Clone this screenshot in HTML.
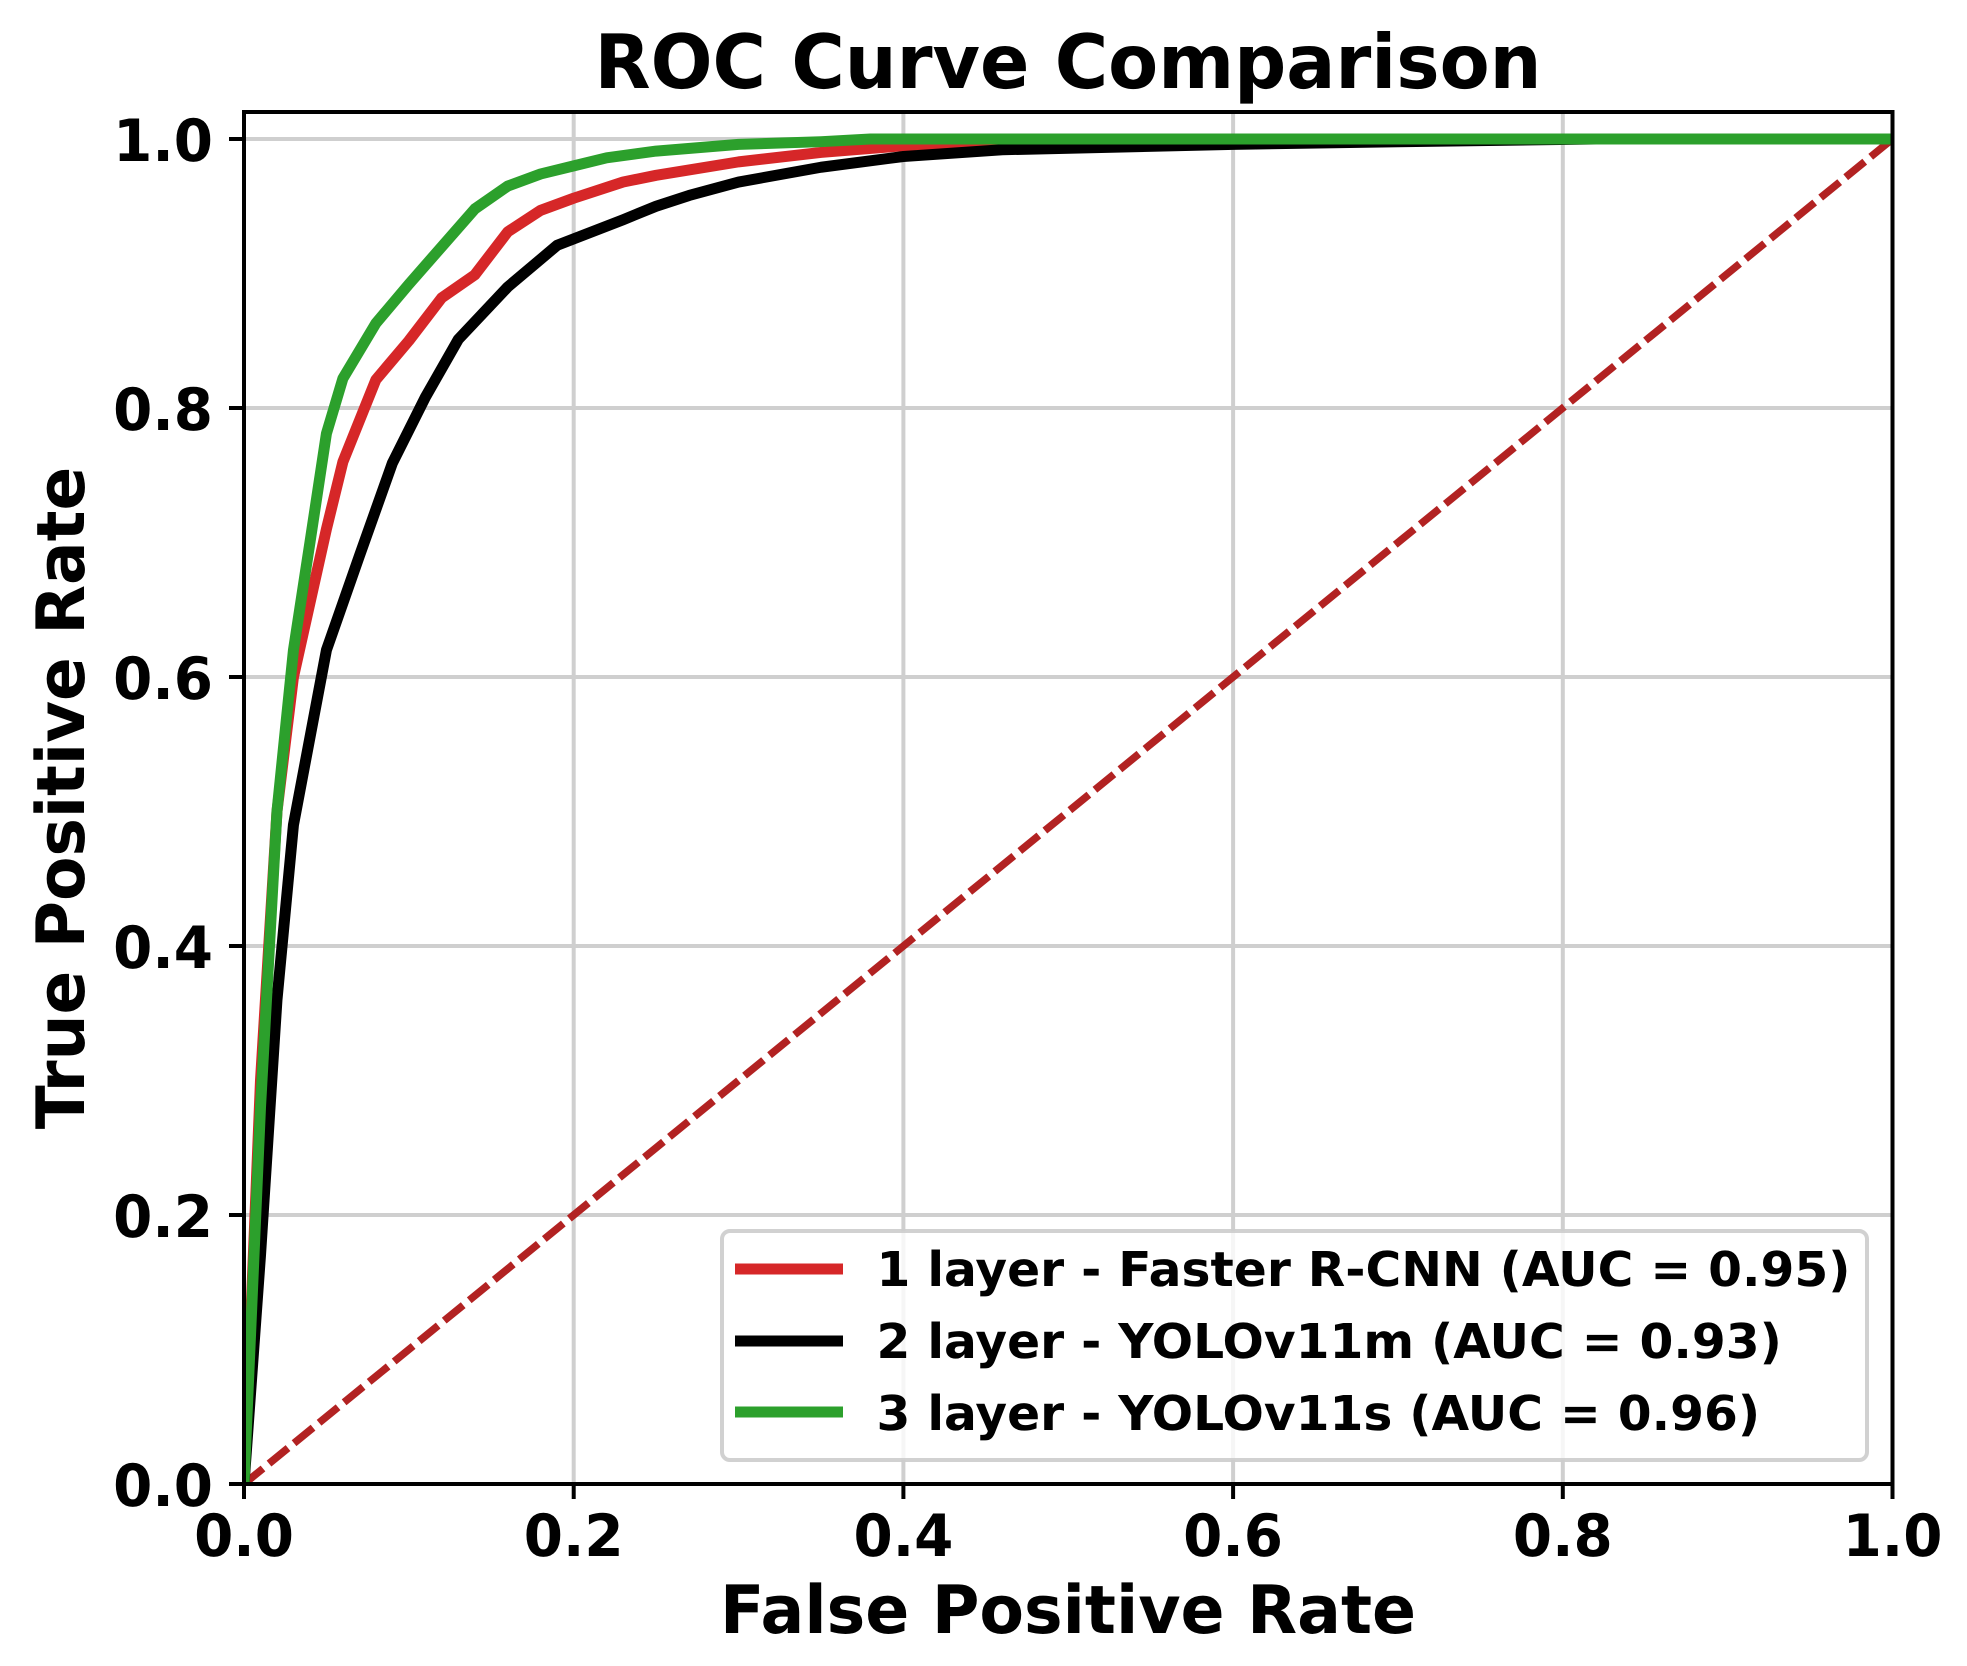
<!DOCTYPE html>
<html lang="en">
<head>
<meta charset="utf-8">
<title>ROC Curve Comparison</title>
<style>
html,body{margin:0;padding:0;background:#fff;}
#chart{display:block;position:absolute;left:0;top:0;}
text{font-family:"DejaVu Sans","Liberation Sans",sans-serif;font-weight:bold;fill:#000;text-rendering:geometricPrecision;}
</style>
</head>
<body>
<svg id="chart" xmlns="http://www.w3.org/2000/svg" width="1967" height="1666" viewBox="0 0 1967 1666">
  <defs><clipPath id="plot-clip"><rect x="244" y="112" width="1648.5" height="1372"/></clipPath></defs>
  <rect x="0" y="0" width="1967" height="1666" fill="#fff"/>
  <g id="grid"></g>
  <g id="marks" clip-path="url(#plot-clip)"></g>
  <g id="ticks"></g>
  <rect x="244" y="112" width="1648.5" height="1372" fill="none" stroke="#000" stroke-width="4"/>
  <text transform="translate(1068 88) scale(0.971 1)" font-size="75" text-anchor="middle">ROC Curve Comparison</text>
  <text transform="translate(1068 1633) scale(0.9735 1)" font-size="66.7" text-anchor="middle">False Positive Rate</text>
  <text transform="translate(84 798) rotate(-90) scale(0.968 1)" font-size="66.7" text-anchor="middle">True Positive Rate</text>
  <g>
    <rect x="722" y="1231" width="1145" height="229" rx="8" ry="8" fill="#fff" fill-opacity="0.8" stroke="#cccccc" stroke-opacity="0.9" stroke-width="4"/>
    <g>
      <line x1="735" y1="1269" x2="843" y2="1269" stroke="#d62728" stroke-width="11"/>
      <text transform="translate(876.5 1286) scale(1.0144 1)" font-size="48">1 layer - Faster R-CNN (AUC = 0.95)</text>
    </g>
    <g>
      <line x1="735" y1="1341" x2="843" y2="1341" stroke="#000000" stroke-width="11"/>
      <text transform="translate(876.5 1358) scale(1.0144 1)" font-size="48">2 layer - YOLOv11m (AUC = 0.93)</text>
    </g>
    <g>
      <line x1="735" y1="1412" x2="843" y2="1412" stroke="#2ca02c" stroke-width="11"/>
      <text transform="translate(876.5 1430) scale(1.0144 1)" font-size="48">3 layer - YOLOv11s (AUC = 0.96)</text>
    </g>
  </g>
</svg>
<script>
var xTickValues = [0.0, 0.2, 0.4, 0.6, 0.8, 1.0];
var yTickValues = [0.0, 0.2, 0.4, 0.6, 0.8, 1.0];
var xTickLabels = ["0.0", "0.2", "0.4", "0.6", "0.8", "1.0"];
var yTickLabels = ["0.0", "0.2", "0.4", "0.6", "0.8", "1.0"];

var chanceFpr = [0, 1];
var chanceTpr = [0, 1];

var fasterRcnnFpr = [0, 0.01, 0.02, 0.03, 0.05, 0.06, 0.08, 0.10, 0.12, 0.14, 0.16, 0.18, 0.20, 0.23, 0.25, 0.30, 0.35, 0.40, 0.45, 0.50, 1];
var fasterRcnnTpr = [0, 0.30, 0.50, 0.60, 0.71, 0.76, 0.821, 0.85, 0.882, 0.899, 0.931, 0.947, 0.956, 0.968, 0.973, 0.983, 0.990, 0.995, 0.999, 1, 1];

var yolo11mFpr = [0, 0.01, 0.02, 0.03, 0.05, 0.07, 0.09, 0.11, 0.13, 0.16, 0.19, 0.23, 0.25, 0.27, 0.30, 0.35, 0.40, 0.46, 0.60, 0.70, 0.82, 1];
var yolo11mTpr = [0, 0.17, 0.36, 0.49, 0.62, 0.69, 0.759, 0.808, 0.851, 0.89, 0.921, 0.94, 0.95, 0.958, 0.968, 0.979, 0.987, 0.992, 0.996, 0.998, 1, 1];

var yolo11sFpr = [0, 0.01, 0.02, 0.03, 0.04, 0.05, 0.06, 0.08, 0.10, 0.12, 0.14, 0.16, 0.18, 0.20, 0.22, 0.25, 0.30, 0.35, 0.38, 1];
var yolo11sTpr = [0, 0.28, 0.50, 0.62, 0.70, 0.781, 0.822, 0.863, 0.892, 0.92, 0.948, 0.965, 0.974, 0.98, 0.986, 0.991, 0.996, 0.998, 1, 1];

var SVG_NS = "http://www.w3.org/2000/svg";

function xScale(v) { return 244 + v * 1648.5; }
function yScale(v) { return 1484 - v * 1345; }

function pathFrom(xs, ys) {
  var d = "";
  for (var i = 0; i < xs.length; i++) {
    d += (i === 0 ? "M" : "L") + xScale(xs[i]).toFixed(2) + " " + yScale(ys[i]).toFixed(2);
  }
  return d;
}

function makeLine(parent, x1, y1, x2, y2, stroke, width) {
  var el = document.createElementNS(SVG_NS, "line");
  el.setAttribute("x1", x1);
  el.setAttribute("y1", y1);
  el.setAttribute("x2", x2);
  el.setAttribute("y2", y2);
  el.setAttribute("stroke", stroke);
  el.setAttribute("stroke-width", width);
  parent.appendChild(el);
  return el;
}

function makeLabel(parent, x, y, anchor, content) {
  var el = document.createElementNS(SVG_NS, "text");
  el.setAttribute("transform", "translate(" + x + " " + y + ") scale(0.967 1)");
  el.setAttribute("font-size", "58.3");
  el.setAttribute("text-anchor", anchor);
  el.textContent = content;
  parent.appendChild(el);
  return el;
}

function makeSeries(parent, xs, ys, stroke, width) {
  var el = document.createElementNS(SVG_NS, "path");
  el.setAttribute("d", pathFrom(xs, ys));
  el.setAttribute("fill", "none");
  el.setAttribute("stroke", stroke);
  el.setAttribute("stroke-width", width);
  el.setAttribute("stroke-linejoin", "round");
  parent.appendChild(el);
  return el;
}

var gridLayer = document.getElementById("grid");
var tickLayer = document.getElementById("ticks");
var markLayer = document.getElementById("marks");

xTickValues.forEach(function (v, i) {
  var px = xScale(v);
  var gl = makeLine(gridLayer, px, 112, px, 1484, "#cfcfcf", 4);
  
  
  var tk = makeLine(tickLayer, px, 1484, px, 1499, "#000", 4);
  
  
  var lb = makeLabel(tickLayer, px, 1556, "middle", xTickLabels[i]);
  
  
});

yTickValues.forEach(function (v, i) {
  var py = yScale(v);
  var gl = makeLine(gridLayer, 244, py, 1892.5, py, "#cfcfcf", 4);
  
  
  var tk = makeLine(tickLayer, 229, py, 244, py, "#000", 4);
  
  
  var lb = makeLabel(tickLayer, 213, py + 22, "end", yTickLabels[i]);
  
  
});

var chanceLine = makeSeries(markLayer, chanceFpr, chanceTpr, "#b22222", 7.5);
chanceLine.setAttribute("stroke-dasharray", "24.5 7.8");



var fasterRcnnLine = makeSeries(markLayer, fasterRcnnFpr, fasterRcnnTpr, "#d62728", 11);



var yolo11mLine = makeSeries(markLayer, yolo11mFpr, yolo11mTpr, "#000000", 11);



var yolo11sLine = makeSeries(markLayer, yolo11sFpr, yolo11sTpr, "#2ca02c", 11);


</script>
</body>
</html>
